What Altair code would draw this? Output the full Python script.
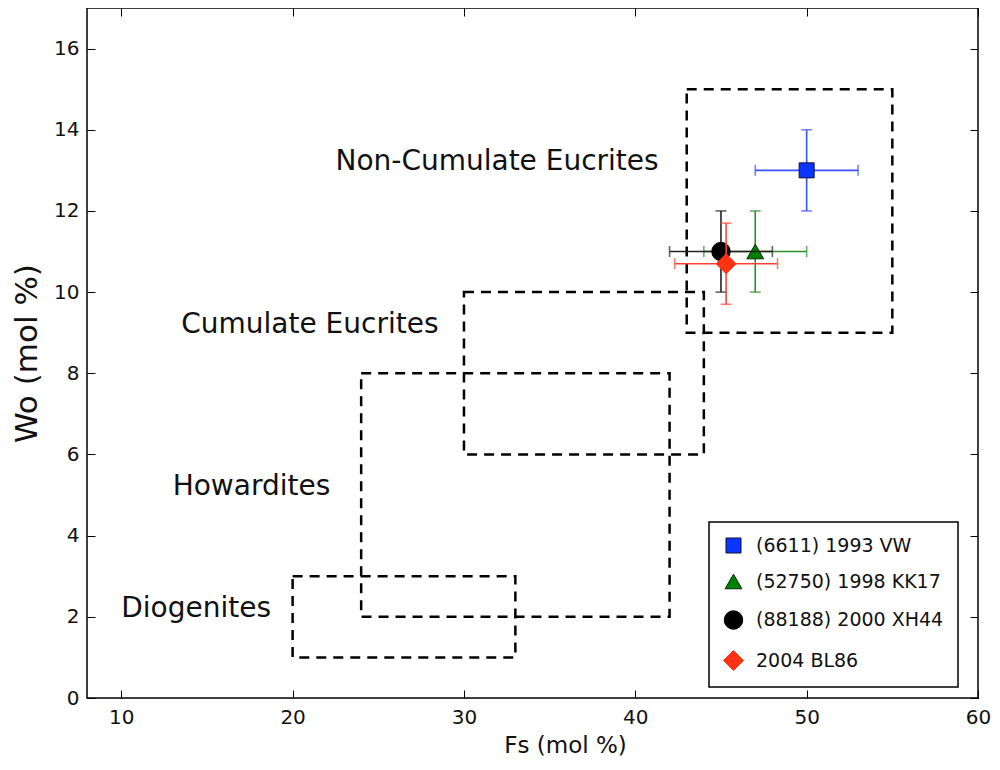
import altair as alt
import pandas as pd

# ---- data ----
names = ["(6611) 1993 VW", "(52750) 1998 KK17", "(88188) 2000 XH44", "2004 BL86"]
fs = [50.0, 47.0, 45.0, 45.3]
wo = [13.0, 11.0, 11.0, 10.7]
fs_err = [3.0, 3.0, 3.0, 3.0]
wo_err = [1.0, 1.0, 1.0, 1.0]

region_names = ["Diogenites", "Howardites", "Cumulate Eucrites", "Non-Cumulate Eucrites"]
region_fs_lo = [20, 24, 30, 43]
region_fs_hi = [33, 42, 44, 55]
region_wo_lo = [1, 2, 6, 9]
region_wo_hi = [3, 8, 10, 15]
label_fs = [10, 13, 13.5, 22.5]
label_wo = [2, 5, 9, 13]

x_ticks = [10, 20, 30, 40, 50, 60]
y_ticks = [0, 2, 4, 6, 8, 10, 12, 14, 16]

# ---- styles ----
marker_fill = ["#0a35ff", "#008000", "#000000", "#ff3311"]
marker_edge = ["#101030", "#0b2a0b", "#000000", "#ff3311"]
err_color = ["#3d50ff", "#2a8f2a", "#222222", "#ff4433"]
shapes = ["square", "triangle-up", "circle", "diamond"]
sizes = [225, 400, 289, 676]

pts = pd.DataFrame({
    "name": names, "fs": fs, "wo": wo, "fs_err": fs_err, "wo_err": wo_err,
    "ecol": err_color,
})
regions = pd.DataFrame({
    "name": region_names, "x1": region_fs_lo, "x2": region_fs_hi,
    "y1": region_wo_lo, "y2": region_wo_hi, "lx": label_fs, "ly": label_wo,
})

xs = alt.Scale(domain=[8, 60], nice=False, zero=False)
ys = alt.Scale(domain=[0, 17], nice=False, zero=False)

base_pts = alt.Chart(pts).transform_calculate(
    xlo="datum.fs - datum.fs_err", xhi="datum.fs + datum.fs_err",
    ylo="datum.wo - datum.wo_err", yhi="datum.wo + datum.wo_err",
)

rects = alt.Chart(regions).mark_rect(
    fillOpacity=0, stroke="black", strokeWidth=2.5, strokeDash=[10, 7]
).encode(
    x=alt.X("x1:Q", scale=xs, axis=alt.Axis(
        values=x_ticks, orient="bottom", offset=-8, tickSize=8, tickColor="black",
        tickWidth=1, domain=False, labelPadding=9, labelFontSize=20, labelFlush=False,
        labelColor="#111", title="Fs (mol %)", titleFontSize=23, titleX=478,
        titleFontWeight="normal", titleColor="#111", titlePadding=7, grid=False)),
    x2="x2:Q",
    y=alt.Y("y1:Q", scale=ys, axis=alt.Axis(
        values=y_ticks, orient="left", offset=-8, tickSize=8, tickColor="black",
        tickWidth=1, domain=False, labelPadding=8, labelFontSize=20, labelFlush=False,
        labelColor="#111", title="Wo (mol %)", titleFontSize=31,
        titleFontWeight="normal", titleColor="#111", titlePadding=10, grid=False)),
    y2="y2:Q",
)

frame_axes = alt.Chart(regions).mark_point(opacity=0).encode(
    x=alt.X("x1:Q", scale=xs, axis=alt.Axis(
        values=x_ticks, orient="top", offset=-8, tickSize=8, tickColor="black",
        tickWidth=1, domain=False, labels=False, title=None, grid=False)),
    y=alt.Y("y1:Q", scale=ys, axis=alt.Axis(
        values=y_ticks, orient="right", offset=-8, tickSize=8, tickColor="black",
        tickWidth=1, domain=False, labels=False, title=None, grid=False)),
)

labels = alt.Chart(regions).mark_text(
    align="left", baseline="alphabetic", fontSize=28, font="DejaVu Sans", color="#111"
).encode(
    x=alt.X("lx:Q", scale=xs, axis=None),
    y=alt.Y("ly:Q", scale=ys, axis=None),
    text="name:N",
)

layers = [rects, frame_axes, labels]
for n in names:
    sub = base_pts.transform_filter(alt.datum.name == n)
    ecol = alt.Color("ecol:N", scale=None, legend=None)
    h = sub.mark_rule(strokeWidth=1.6).encode(
        x=alt.X("xlo:Q", scale=xs, axis=None), x2="xhi:Q",
        y=alt.Y("wo:Q", scale=ys, axis=None), color=ecol)
    v = sub.mark_rule(strokeWidth=1.6).encode(
        x=alt.X("fs:Q", scale=xs, axis=None),
        y=alt.Y("ylo:Q", scale=ys, axis=None), y2="yhi:Q", color=ecol)
    capl = sub.mark_tick(orient="vertical", size=11, thickness=1.6).encode(
        x=alt.X("xlo:Q", scale=xs, axis=None), y=alt.Y("wo:Q", scale=ys, axis=None), color=ecol)
    capr = sub.mark_tick(orient="vertical", size=11, thickness=1.6).encode(
        x=alt.X("xhi:Q", scale=xs, axis=None), y=alt.Y("wo:Q", scale=ys, axis=None), color=ecol)
    capb = sub.mark_tick(orient="horizontal", size=11, thickness=1.6).encode(
        x=alt.X("fs:Q", scale=xs, axis=None), y=alt.Y("ylo:Q", scale=ys, axis=None), color=ecol)
    capt = sub.mark_tick(orient="horizontal", size=11, thickness=1.6).encode(
        x=alt.X("fs:Q", scale=xs, axis=None), y=alt.Y("yhi:Q", scale=ys, axis=None), color=ecol)
    pt = sub.mark_point(filled=True, opacity=1, strokeWidth=1).encode(
        x=alt.X("fs:Q", scale=xs, axis=None),
        y=alt.Y("wo:Q", scale=ys, axis=None),
        fill=alt.Fill("name:N", scale=alt.Scale(domain=names, range=marker_fill), legend=alt.Legend(title=None)),
        shape=alt.Shape("name:N", scale=alt.Scale(domain=names, range=shapes), legend=alt.Legend(title=None)),
        size=alt.Size("name:N", scale=alt.Scale(domain=names, range=sizes), legend=alt.Legend(title=None)),
        stroke=alt.Stroke("name:N", scale=alt.Scale(domain=names, range=marker_edge), legend=alt.Legend(title=None)),
    )
    layers += [h, v, capl, capr, capb, capt, pt]

chart = alt.layer(*layers).resolve_axis(x="independent", y="independent").properties(
    width=891, height=690,
    autosize=alt.AutoSizeParams(type="none"),
    padding={"left": 79, "top": 0, "right": 14, "bottom": 64},
).configure(font="DejaVu Sans").configure_view(
    stroke="black", strokeWidth=1.5
).configure_legend(
    orient="none", legendX=622, legendY=514,
    strokeColor="black", strokeWidth=1.5, fillColor="white", cornerRadius=0,
    padding=14, rowPadding=16, labelFontSize=19, labelColor="#111", labelLimit=400,
    labelOffset=12, symbolStrokeWidth=1, labelFont="DejaVu Sans",
)

chart.save("out.html", embed_options={"renderer": "svg", "actions": False})
